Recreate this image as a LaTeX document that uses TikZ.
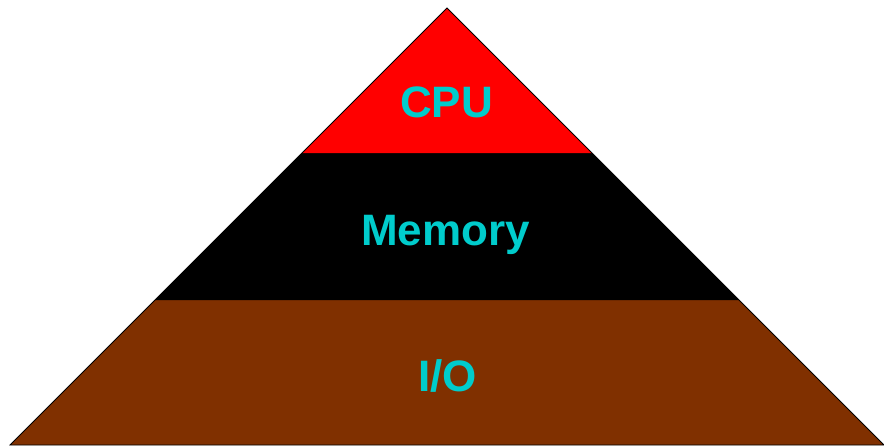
\documentclass[tikz,border=0pt]{standalone}
\usepackage{fontspec}
\setmainfont{Liberation Sans}
\definecolor{cpured}{HTML}{FF0000}
\definecolor{iobrown}{HTML}{803000}
\definecolor{labelcyan}{HTML}{00CCCC}
\begin{document}
\begin{tikzpicture}[x=1pt,y=-1pt,
  band/.style={draw=black,line width=0.8pt,line join=miter},
  lbl/.style={text=labelcyan,font=\fontsize{44}{50}\selectfont\bfseries,inner sep=0pt,anchor=base}]
\useasboundingbox (0,0) rectangle (884,447);
\coordinate (apex) at (447,8);
\coordinate (l1) at (302,153);
\coordinate (r1) at (592,153);
\coordinate (l2) at (155,300);
\coordinate (r2) at (739,300);
\coordinate (bl) at (10,445);
\coordinate (br) at (884,445);
\fill[iobrown] (l2) -- (r2) -- (br) -- (bl) -- cycle;
\fill[black] (l1) -- (r1) -- (r2) -- (l2) -- cycle;
\fill[cpured] (apex) -- (r1) -- (l1) -- cycle;
\draw[band] (apex) -- (br) -- (bl) -- cycle;
\node[lbl] (cpu) at (446.5,117) {CPU};
\node[lbl] (mem) at (445.5,245) {Memory};
\node[lbl] (io) at (447.5,391) {I/O};
\end{tikzpicture}
\end{document}
